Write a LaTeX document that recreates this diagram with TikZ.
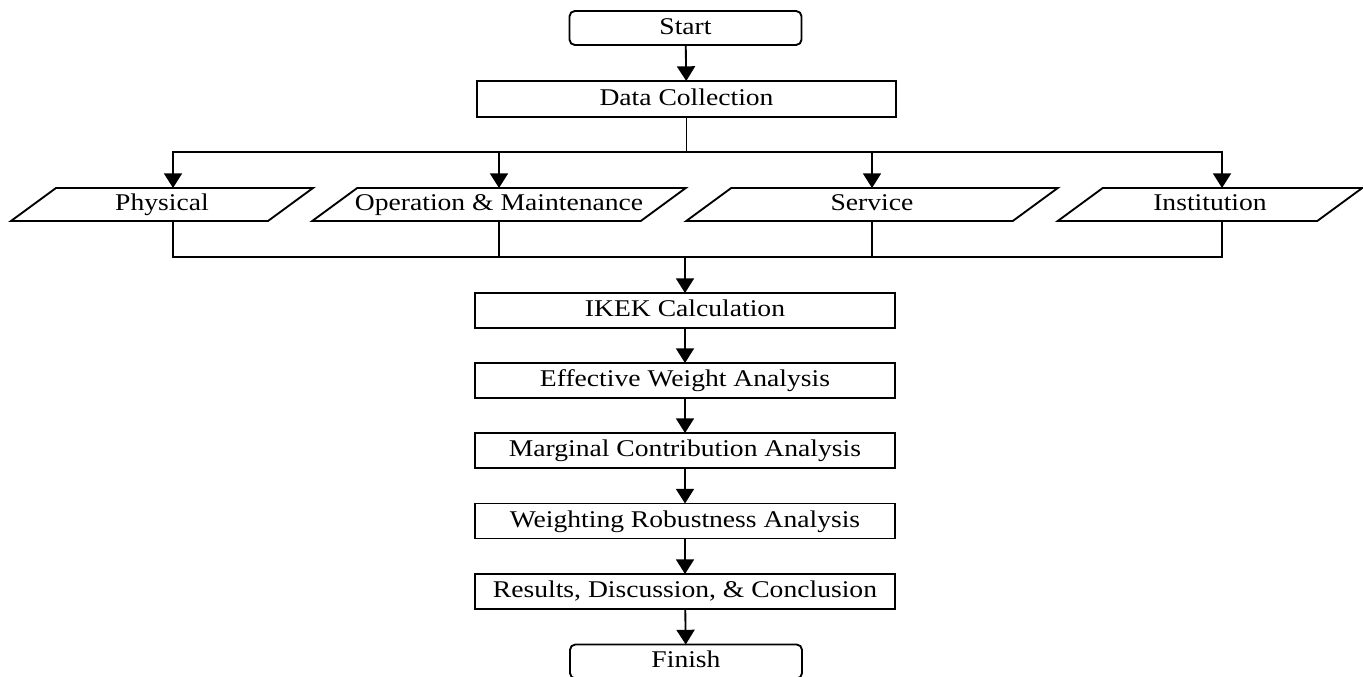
\documentclass[tikz,border=0pt]{standalone}
\usepackage{fontspec}
\setmainfont{Liberation Serif}[FakeStretch=1.15]
\usetikzlibrary{arrows.meta,calc}
\begin{document}
\begin{tikzpicture}[x=0.75pt,y=-0.75pt,
  every node/.style={inner sep=0pt, outer sep=0pt, text height=13.6pt, text depth=4pt, font=\fontsize{18}{20}\selectfont},
  proc/.style={draw, line width=1.4pt, minimum width=315pt, minimum height=26.25pt},
  term/.style={draw, line width=1.4pt, rounded corners=4pt, minimum width=174pt, minimum height=25.5pt},
  io/.style={minimum height=24.75pt},
  link/.style={line width=1.4pt},
  arr/.style={link, -{Triangle[length=11pt,width=13.5pt]}}
]
\useasboundingbox (0,0) rectangle (1363,677);

% terminals and process boxes
\node[term] (start) at (685.5,28) {Start};
\node[proc, minimum width=314.25pt, minimum height=27pt] (dc) at (686.5,99) {Data Collection};

% input parallelograms (text nodes; outlines drawn below)
\node[io, minimum width=192.75pt] (phys) at (162,204.5) {Physical};
\node[io, minimum width=246.4pt] (om) at (499,204.5) {Operation \& Maintenance};
\node[io, minimum width=244.9pt] (serv) at (872,204.5) {Service};
\node[io, minimum width=194.6pt] (inst) at (1210,204.5) {Institution};
\foreach \n in {phys,om,serv,inst}{
  \draw[link] ($(\n.south west)+(-22.5,0)$) -- ($(\n.north west)+(22.5,0)$)
    -- ($(\n.north east)+(22.5,0)$) -- ($(\n.south east)+(-22.5,0)$) -- cycle;
}

\node[proc] (ikek) at (685,310.5) {IKEK Calculation};
\node[proc] (eff) at (685,380.5) {Effective Weight Analysis};
\node[proc] (marg) at (685,450.5) {Marginal Contribution Analysis};
\node[proc] (wra) at (685,521) {Weighting Robustness Analysis};
\node[proc] (res) at (685,591.5) {Results, Discussion, \& Conclusion};
\node[term] (fin) at (686,661.5) {Finish};

% bus coordinates
\coordinate (b1) at ($(dc.south)+(0,35)$);
\coordinate (b2) at ($(ikek.north)+(0,-36)$);

\draw[arr] (start) -- (dc);
\draw[link] (dc.south) -- (b1);
\draw[arr] (b1) -| ($(phys.north)+(11,0)$);
\draw[arr] (b1) -| (om.north);
\draw[arr] (b1) -| (serv.north);
\draw[arr] (b1) -| ($(inst.north)+(12,0)$);

\draw[link] ($(phys.south)+(11,0)$) |- (b2);
\draw[link] (om.south) |- (b2);
\draw[link] (serv.south) |- (b2);
\draw[link] ($(inst.south)+(12,0)$) |- (b2);
\draw[arr] (b2) -- (ikek.north);

\draw[arr] (ikek) -- (eff);
\draw[arr] (eff) -- (marg);
\draw[arr] (marg) -- (wra);
\draw[arr] (wra) -- (res);
\draw[arr] (res) -- (fin);
\end{tikzpicture}
\end{document}
